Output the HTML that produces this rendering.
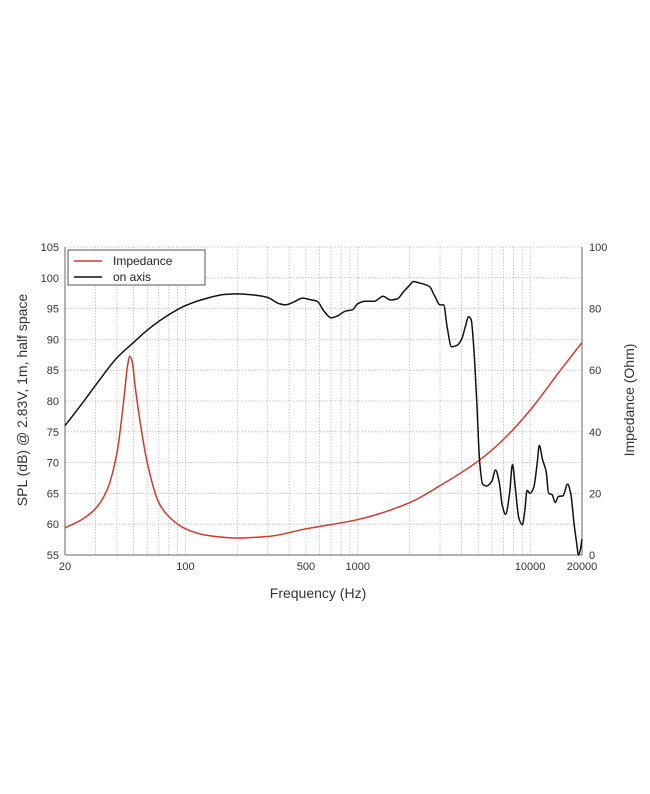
<!DOCTYPE html>
<html><head><meta charset="utf-8"><style>
html,body{margin:0;padding:0;background:#fff;}
svg{display:block;font-family:"Liberation Sans",sans-serif;}
</style></head><body>
<svg id="chart" width="650" height="794" viewBox="0 0 650 794" xmlns="http://www.w3.org/2000/svg">
<g id="grid"></g>
<g id="axes"></g>
<g id="series"></g>
<g>
<rect x="68" y="250" width="137" height="35" fill="#fff" stroke="#555" stroke-width="1"/>
<line x1="74" y1="261" x2="102" y2="261" stroke="#d0392b" stroke-width="1.5"/>
<text x="113" y="265" font-size="12" fill="#222">Impedance</text>
<line x1="74" y1="277" x2="102" y2="277" stroke="#111" stroke-width="1.5"/>
<text x="113" y="281" font-size="12" fill="#222">on axis</text>
</g>
<text x="318" y="598" font-size="14" text-anchor="middle" fill="#333">Frequency (Hz)</text>
<text transform="translate(27,400) rotate(-90)" font-size="14" text-anchor="middle" fill="#333">SPL (dB) @ 2.83V, 1m, half space</text>
<text transform="translate(634,400) rotate(-90)" font-size="14" text-anchor="middle" fill="#333">Impedance (Ohm)</text>
</svg>
<script>
const splFreq=[20,25,30,40,50,60,80,100,130,170,200,250,300,350,380,420,480,520,580,640,700,760,850,930,1000,1100,1250,1400,1550,1700,1850,2000,2100,2250,2400,2600,2800,3000,3150,3300,3500,3750,4000,4200,4400,4550,4700,4900,5100,5300,5600,6000,6300,6600,6900,7200,7600,7900,8200,8600,9000,9300,9600,10000,10500,11000,11300,11800,12400,12800,13400,14000,14600,15500,16500,17200,18000,18600,19100,19600,20000];
const splValues=[76,79.5,82.5,87,89.5,91.5,94,95.5,96.6,97.3,97.4,97.2,96.8,95.8,95.6,96,96.7,96.5,96.2,94.5,93.5,93.8,94.6,94.8,95.8,96.2,96.2,97,96.4,96.6,97.8,98.8,99.4,99.2,99,98.6,97,95.6,95.6,92,88.8,89,90,92,93.7,93.2,89,80,70,66.5,66.2,67,68.8,67,63,61.6,65,69.7,66,61,59.9,62,65.5,65,66,70,72.8,70.5,68.5,65,64.8,63.5,64.5,64.6,66.5,65,60,57,55,56,57.6];
const impFreq=[20,25,30,35,40,44,46,47.5,49,51,55,60,70,80,100,130,200,300,500,1000,2000,3000,5000,7000,10000,15000,20000];
const impValues=[8.8,11.5,15,21,33,51,61,64.5,63,55,42,30,17,12.5,8.5,6.5,5.5,6,8.5,11.5,17,22.5,30.5,37.5,47,60,69];
const splTicks=[55,60,65,70,75,80,85,90,95,100,105];
const impTicks=[0,20,40,60,80,100];
const freqTicks=[20,100,500,1000,10000,20000];

const L=65,R=582,T=247,B=555,fMin=20,fMax=20000;
const NS="http://www.w3.org/2000/svg";
function xS(f){return L+(Math.log10(f)-Math.log10(fMin))/(Math.log10(fMax)-Math.log10(fMin))*(R-L);}
function ySpl(v){return B-(v-55)/(105-55)*(B-T);}
function yImp(v){return B-(v-0)/(100-0)*(B-T);}
function mk(tag,attrs,parent){const e=document.createElementNS(NS,tag);for(const k in attrs)e.setAttribute(k,attrs[k]);parent.appendChild(e);return e;}
const grid=document.getElementById('grid'),axes=document.getElementById('axes'),series=document.getElementById('series');
const gridFreqs=[];
for(let d=10;d<=10000;d*=10)for(let m=1;m<10;m++){const f=d*m;if(f>=fMin&&f<=fMax)gridFreqs.push(f);}
gridFreqs.push(20000);
gridFreqs.forEach(f=>{
 const l=mk('line',{x1:xS(f),x2:xS(f),y1:T,y2:B,stroke:'#bbb','stroke-width':0.8,'stroke-dasharray':'1.5,1.5'},grid);
 
 
});
splTicks.forEach(v=>{
 const l=mk('line',{x1:L,x2:R,y1:ySpl(v),y2:ySpl(v),stroke:'#bbb','stroke-width':0.8,'stroke-dasharray':'1.5,1.5'},grid);
 
 
 const t=mk('text',{x:L-6,y:ySpl(v)+4,'font-size':11,'text-anchor':'end',fill:'#333'},axes);t.textContent=v;
 
 
});
impTicks.forEach(v=>{
 const t=mk('text',{x:R+7,y:yImp(v)+4,'font-size':11,'text-anchor':'start',fill:'#333'},axes);t.textContent=v;
 
 
});
freqTicks.forEach(f=>{
 const t=mk('text',{x:xS(f),y:B+15,'font-size':11,'text-anchor':'middle',fill:'#333'},axes);t.textContent=f;
 
 
});
const lb=mk('line',{x1:L,x2:L,y1:T,y2:B,stroke:'#666','stroke-width':1},axes);


const rb=mk('line',{x1:R,x2:R,y1:T,y2:B,stroke:'#666','stroke-width':1},axes);


const bb=mk('line',{x1:L,x2:R,y1:B,y2:B,stroke:'#666','stroke-width':1},axes);


// monotone cubic (Fritsch-Carlson) through screen points, sampled densely
function smooth(pts){
 const n=pts.length,xs=pts.map(p=>p[0]),ys=pts.map(p=>p[1]);
 const dx=[],s=[];
 for(let i=0;i<n-1;i++){dx.push(xs[i+1]-xs[i]);s.push((ys[i+1]-ys[i])/dx[i]);}
 const m=new Array(n);
 m[0]=s[0];m[n-1]=s[n-2];
 for(let i=1;i<n-1;i++){
  if(s[i-1]*s[i]<=0)m[i]=0;
  else{const w1=2*dx[i]+dx[i-1],w2=dx[i]+2*dx[i-1];m[i]=(w1+w2)/(w1/s[i-1]+w2/s[i]);}
 }
 let d='M'+xs[0].toFixed(2)+','+ys[0].toFixed(2);
 for(let i=0;i<n-1;i++){
  const h=dx[i];
  d+=' C'+(xs[i]+h/3).toFixed(2)+','+(ys[i]+m[i]*h/3).toFixed(2)+' '+(xs[i+1]-h/3).toFixed(2)+','+(ys[i+1]-m[i+1]*h/3).toFixed(2)+' '+xs[i+1].toFixed(2)+','+ys[i+1].toFixed(2);
 }
 return d;
}
const imp=mk('path',{d:smooth(impFreq.map((f,i)=>[xS(f),yImp(impValues[i])])),fill:'none',stroke:'#d0392b','stroke-width':1.5},series);


const spl=mk('path',{d:smooth(splFreq.map((f,i)=>[xS(f),ySpl(splValues[i])])),fill:'none',stroke:'#111','stroke-width':1.5},series);


</script>
</body></html>
